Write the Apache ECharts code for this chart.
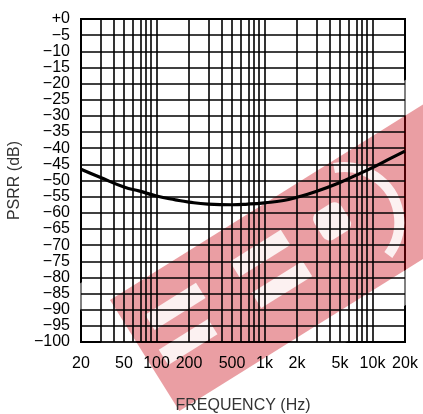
<!DOCTYPE html>
<html>
<head>
<meta charset="utf-8">
<script src="https://cdn.jsdelivr.net/npm/echarts@6/dist/echarts.min.js"></script>
<style>
  html, body { margin: 0; padding: 0; background: #fff; }
  #chart { width: 423px; height: 414px; }
</style>
</head>
<body>
<div id="chart"></div>
<script>
// PSRR vs frequency
const freqs = [20, 30, 50, 70, 100, 150, 200, 300, 500, 700, 1000, 1500, 2000, 3000, 5000, 7000, 10000, 15000, 20000];
const psrr = [-46.5, -49.0, -52.0, -53.3, -54.8, -56.0, -56.7, -57.3, -57.5, -57.3, -56.9, -56.2, -55.2, -53.4, -50.6, -48.4, -46.0, -43.0, -40.9];

// vertical grid lines (log decades) and the labelled ones
const gridFreqs = [30, 40, 50, 60, 70, 80, 90, 100, 200, 300, 400, 500, 600, 700, 800, 900,
  1000, 2000, 3000, 4000, 5000, 6000, 7000, 8000, 9000, 10000];
const labelFreqs = [20, 50, 100, 200, 500, 1000, 2000, 5000, 10000, 20000];

const lg = Math.log10;
const fmtFreq = function (f) {
  return f >= 1000 ? (f / 1000) + 'k' : String(f);
};

const font = '"Liberation Sans", Arial, sans-serif';
const chart = echarts.init(document.getElementById('chart'));

// watermark pieces in band-local coords (u along band, v across)
const notches = [
  [22, 31, 60, 18], [15, 68, 58, 18],
  [122, 31, 60, 18], [124, 69, 60, 18]
];
const white = 'rgba(255,255,255,0.85)';

chart.setOption({
  animation: false,
  grid: {
    left: 81, right: 18, top: 19, bottom: 72,
    outerBoundsMode: 'none', containLabel: false,
    show: true, borderColor: '#000', borderWidth: 2
  },
  xAxis: {
    type: 'value',
    min: lg(20),
    max: lg(20000),
    name: 'FREQUENCY (Hz)',
    nameLocation: 'middle',
    nameGap: 56,
    nameTextStyle: { fontFamily: font, fontSize: 16, color: '#333' },
    axisLine: { show: false },
    axisTick: { show: false },
    splitLine: { show: false },
    axisLabel: {
      customValues: labelFreqs.map(lg),
      formatter: function (v) { return fmtFreq(Math.round(Math.pow(10, v))); },
      fontFamily: font, fontSize: 16, color: '#000', margin: 14
    }
  },
  yAxis: {
    type: 'value',
    min: -100,
    max: 0,
    interval: 5,
    name: 'PSRR (dB)',
    nameLocation: 'middle',
    nameGap: 56,
    nameTextStyle: { fontFamily: font, fontSize: 16, color: '#333' },
    axisLine: { show: false },
    axisTick: { show: false },
    splitLine: { show: true, lineStyle: { color: '#000', width: 1.6 } },
    axisLabel: {
      formatter: function (v) { return v === 0 ? '+0' : '\u2212' + Math.abs(v); },
      fontFamily: font, fontSize: 16, color: '#000', margin: 11
    }
  },
  series: [{
    type: 'line',
    data: freqs.map(function (f, i) { return [lg(f), psrr[i]]; }),
    smooth: true,
    showSymbol: false,
    lineStyle: { color: '#000', width: 3.2 },
    z: 5,
    markLine: {
      silent: true,
      symbol: 'none',
      label: { show: false },
      lineStyle: { color: '#000', width: 1.6, type: 'solid' },
      data: gridFreqs.map(function (f) { return { xAxis: lg(f) }; }),
      z: 1
    }
  }],
  graphic: [{
    type: 'group',
    x: 110,
    y: 300,
    rotation: 32 * Math.PI / 180,
    z: 100,
    silent: true,
    children: [
      { type: 'rect', shape: { x: -15, y: -15, width: 680, height: 161 },
        style: { fill: null, stroke: 'rgba(255,255,255,0.5)', lineWidth: 30 } },
      { type: 'rect', shape: { x: 0, y: 0, width: 650, height: 131 },
        style: { fill: 'rgba(200,0,12,0.38)' } }
    ].concat(notches.map(function (n) {
      return { type: 'rect', shape: { x: n[0], y: n[1], width: n[2], height: n[3] },
        style: { fill: white } };
    })).concat([
      { type: 'rect', shape: { x: 214, y: 35, width: 32, height: 32, r: 8 },
        style: { fill: white } },
      { type: 'arc', shape: { cx: 240, cy: 58, r: 55, startAngle: -1.2, endAngle: 1.2 },
        style: { fill: null, stroke: white, lineWidth: 10 } }
    ])
  }]
});
</script>
</body>
</html>
